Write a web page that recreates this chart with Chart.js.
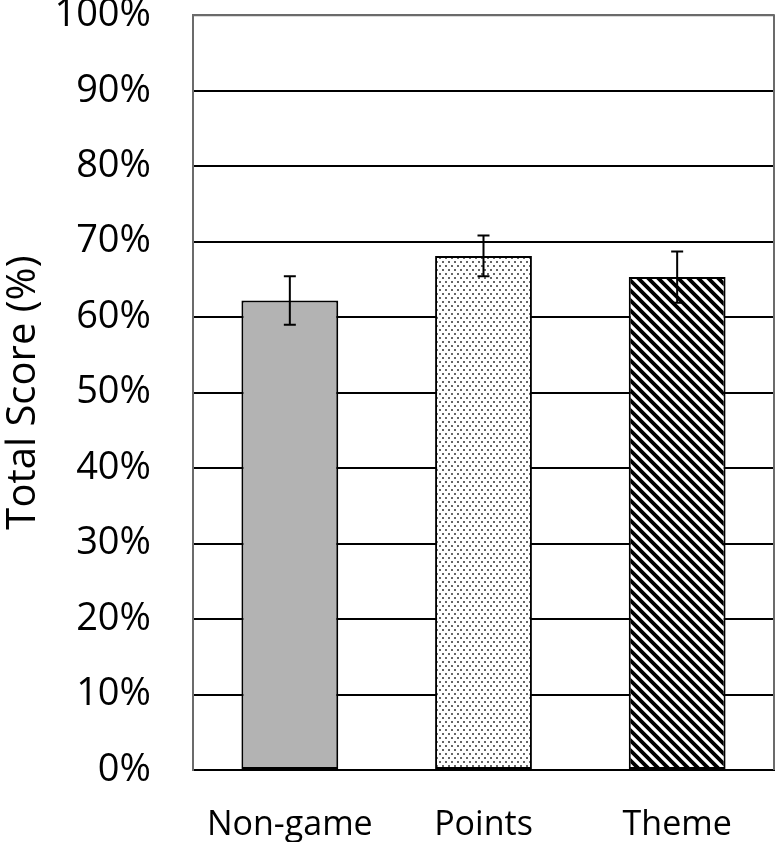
<!DOCTYPE html>
<html lang="en">
<head>
    <meta charset="UTF-8">
    <title>Total Score</title>
    <script src="https://cdn.jsdelivr.net/npm/chart.js"></script>
    <style>
        body { margin: 0; background: #fff; }
        #wrap { width: 776px; height: 842px; }
    </style>
</head>
<body>
    <div id="wrap">
        <canvas id="scoreChart"></canvas>
    </div>
    <script>
        const categories = ['Non-game', 'Points', 'Theme'];
        const scores = [62.2, 68.1, 65.3];
        const errors = [3.2, 2.7, 3.4];
        const yTicks = [0, 10, 20, 30, 40, 50, 60, 70, 80, 90, 100];

        // fill patterns
        function dotPattern() {
            const c = document.createElement('canvas');
            c.width = 6; c.height = 8;
            const g = c.getContext('2d');
            g.fillStyle = '#fff';
            g.fillRect(0, 0, 6, 8);
            g.fillStyle = '#666';
            g.fillRect(1, 1, 2, 2);
            g.fillRect(4, 5, 2, 2);
            return g.createPattern(c, 'repeat');
        }
        function hatchPattern() {
            const s = 10;
            const c = document.createElement('canvas');
            c.width = s; c.height = s;
            const g = c.getContext('2d');
            g.fillStyle = '#fff';
            g.fillRect(0, 0, s, s);
            g.strokeStyle = '#000';
            g.lineWidth = 3.8;
            g.beginPath();
            g.moveTo(-2, -2); g.lineTo(s + 2, s + 2);
            g.moveTo(-2 - s, -2); g.lineTo(2, s + 2);
            g.moveTo(s - 2, -2); g.lineTo(2 * s + 2, s + 2);
            g.stroke();
            return g.createPattern(c, 'repeat');
        }

        const errorBars = {
            id: 'errorBars',
            afterDatasetsDraw(chart) {
                const c = chart.ctx;
                const y = chart.scales.y;
                const meta = chart.getDatasetMeta(0);
                c.save();
                c.strokeStyle = '#000';
                c.lineWidth = 2;
                meta.data.forEach((bar, i) => {
                    const hi = y.getPixelForValue(scores[i] + errors[i]);
                    const lo = y.getPixelForValue(scores[i] - errors[i]);
                    c.beginPath();
                    c.moveTo(bar.x, hi); c.lineTo(bar.x, lo);
                    c.moveTo(bar.x - 6, hi); c.lineTo(bar.x + 6, hi);
                    c.moveTo(bar.x - 6, lo); c.lineTo(bar.x + 6, lo);
                    c.stroke();
                });
                c.restore();
            }
        };

        const frame = {
            id: 'frame',
            afterDraw(chart) {
                const a = chart.chartArea;
                const c = chart.ctx;
                c.save();
                c.strokeStyle = '#6b6b6b';
                c.lineWidth = 2;
                c.beginPath();
                c.moveTo(a.left, a.top); c.lineTo(a.right, a.top); c.lineTo(a.right, a.bottom);
                c.stroke();
                c.restore();
            }
        };

        const ctx = document.getElementById('scoreChart').getContext('2d');
        const scoreChart = new Chart(ctx, {
            type: 'bar',
            data: {
                labels: categories,
                datasets: [{
                    data: scores,
                    backgroundColor: ['#b3b3b3', dotPattern(), hatchPattern()],
                    borderColor: '#000',
                    borderWidth: 2,
                    borderSkipped: false,
                    barPercentage: 0.5,
                    categoryPercentage: 1.0
                }]
            },
            options: {
                responsive: true,
                maintainAspectRatio: false,
                animation: false,
                layout: { padding: { top: 0, right: 2, left: 0, bottom: 0 } },
                plugins: { legend: { display: false }, tooltip: { enabled: false } },
                scales: {
                    x: {
                        grid: { display: false },
                        border: { color: '#000', width: 2 },
                        ticks: {
                            color: '#000',
                            padding: 27,
                            font: { family: 'Open Sans', size: 34 }
                        },
                        afterFit(s) { s.height = 72; }
                    },
                    y: {
                        min: 0,
                        max: 100,
                        afterBuildTicks(s) { s.ticks = yTicks.map(v => ({ value: v })); },
                        grid: {
                            color: c => c.tick && c.tick.value === 100 ? '#6b6b6b' : '#000',
                            lineWidth: 2,
                            drawTicks: true,
                            tickLength: 42,
                            tickColor: 'rgba(0,0,0,0)'
                        },
                        border: { color: '#6b6b6b', width: 2 },
                        ticks: {
                            color: '#000',
                            padding: 0,
                            font: { family: 'Open Sans', size: 38, lineHeight: 0.8 },
                            callback: v => v + '%'
                        },
                        title: {
                            display: true,
                            text: 'Total Score (%)',
                            color: '#000',
                            padding: 0,
                            font: { family: 'Open Sans', size: 40 }
                        },
                        afterFit(s) { s.width = 193; }
                    }
                }
            },
            plugins: [errorBars, frame]
        });
    </script>
</body>
</html>
